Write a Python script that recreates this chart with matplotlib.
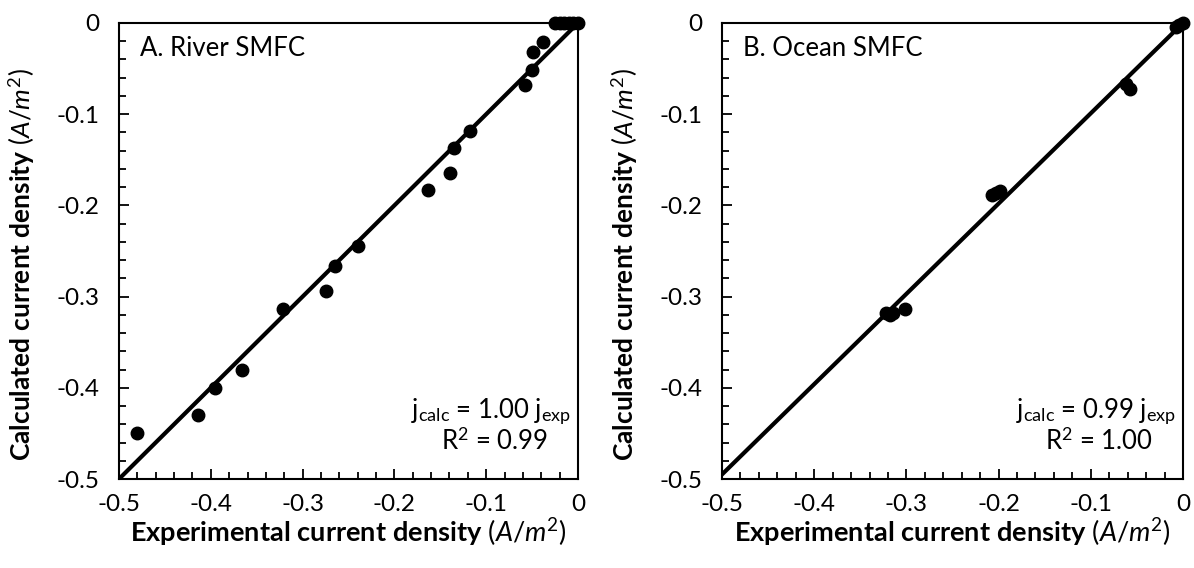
import matplotlib
matplotlib.use("Agg")
import matplotlib.pyplot as plt
from matplotlib.ticker import MultipleLocator, FuncFormatter
import numpy as np

plt.rcParams['font.family'] = ['Lato', 'DejaVu Sans']
plt.rcParams['mathtext.fontset'] = 'custom'
plt.rcParams['mathtext.rm'] = 'Lato'
plt.rcParams['mathtext.it'] = 'Lato:italic'
plt.rcParams['mathtext.bf'] = 'Lato:bold'

# River SMFC data
river_exp = [-0.480, -0.414, -0.395, -0.366, -0.321, -0.275, -0.265, -0.240,
             -0.163, -0.139, -0.135, -0.118, -0.058, -0.050, -0.049, -0.038,
             -0.025, -0.020, -0.015, -0.010, -0.005, 0.0]
river_calc = [-0.450, -0.430, -0.400, -0.380, -0.314, -0.294, -0.266, -0.245,
              -0.183, -0.164, -0.137, -0.118, -0.068, -0.052, -0.032, -0.021,
              0.0, 0.0, 0.0, 0.0, 0.0, 0.0]
# Ocean SMFC data
ocean_exp = [-0.322, -0.318, -0.315, -0.302, -0.207, -0.203, -0.198,
             -0.062, -0.058, -0.008, -0.004, 0.0]
ocean_calc = [-0.318, -0.320, -0.318, -0.314, -0.189, -0.186, -0.184,
              -0.067, -0.072, -0.004, -0.002, 0.0]

panels = [
    ("A. River SMFC", river_exp, river_calc, "1.00", 1.00, "0.99"),
    ("B. Ocean SMFC", ocean_exp, ocean_calc, "0.99", 0.99, "1.00"),
]

W, H = 1194, 568
fig = plt.figure(figsize=(W / 100, H / 100), dpi=100)
rects = [(119, 23, 578, 479), (722, 23, 1183, 479)]

xlabel = r"$\mathbf{Experimental\ current\ density}$ ($\mathit{A/m^2}$)"
ylabel = r"$\mathbf{Calculated\ current\ density}$ ($\mathit{A/m^2}$)"

def fmt(v, pos):
    if abs(v) < 1e-9:
        return "0"
    return f"{v:.1f}"

for (title, xe, yc, slope_txt, slope, r2), (x0, y0, x1, y1) in zip(panels, rects):
    ax = fig.add_axes([x0 / W, 1 - y1 / H, (x1 - x0) / W, (y1 - y0) / H])
    ax.set_xlim(-0.5, 0)
    ax.set_ylim(-0.5, 0)
    xs = np.array([-0.5, 0.0])
    ax.plot(xs, slope * xs, color='black', lw=3.0, zorder=2, clip_on=True)
    ax.plot(xe, yc, 'o', color='black', ms=9, zorder=3, clip_on=False)
    for s in ax.spines.values():
        s.set_linewidth(1.5)
    ax.xaxis.set_major_locator(MultipleLocator(0.1))
    ax.yaxis.set_major_locator(MultipleLocator(0.1))
    ax.xaxis.set_minor_locator(MultipleLocator(0.02))
    ax.yaxis.set_minor_locator(MultipleLocator(0.02))
    ax.xaxis.set_major_formatter(FuncFormatter(fmt))
    ax.yaxis.set_major_formatter(FuncFormatter(fmt))
    ax.tick_params(which='both', direction='in', top=False, right=False, width=1.3)
    ax.tick_params(which='major', length=7, labelsize=17.5, color='black')
    ax.tick_params(which='minor', length=5)
    ax.tick_params(axis='y', which='major', pad=14)
    ax.tick_params(axis='x', which='major', pad=11)
    ax.set_xlabel(xlabel, fontsize=19.5, labelpad=1)
    ax.set_ylabel(ylabel, fontsize=19, labelpad=4)
    ax.yaxis.set_label_coords(-0.178, 0.47)
    ax.text(0.045, 0.945, title, transform=ax.transAxes, fontsize=18.5,
            ha='left', va='center')
    ax.text(0.985, 0.148, r"j$_{\mathrm{calc}}$ = " + slope_txt + r" j$_{\mathrm{exp}}$",
            transform=ax.transAxes, fontsize=18.5, ha='right', va='center')
    ax.text(0.935, 0.083, r"R$^2$ = " + r2, transform=ax.transAxes,
            fontsize=18.5, ha='right', va='center')

fig.savefig("out.png", dpi=100)
